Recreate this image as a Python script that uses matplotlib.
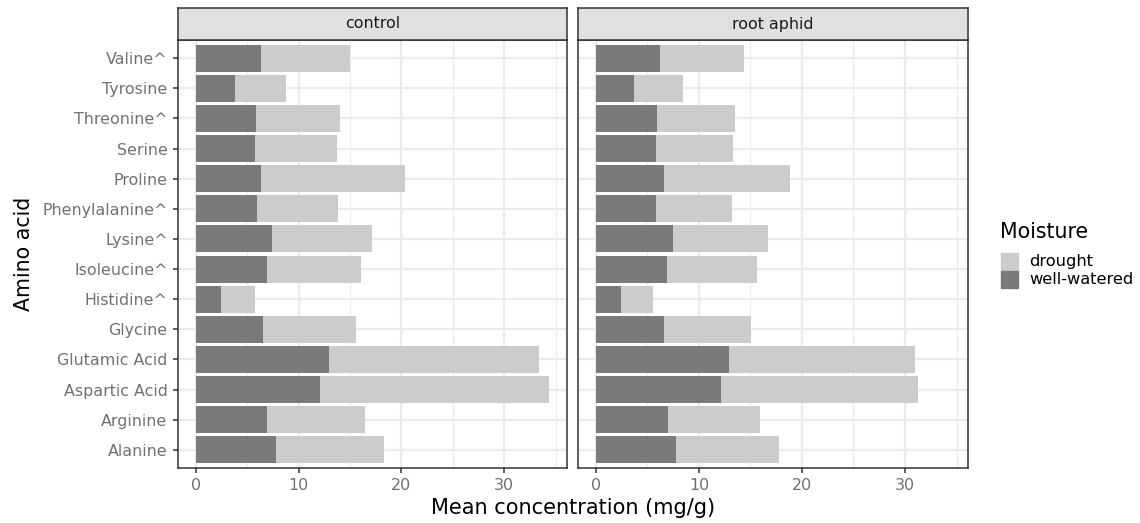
import numpy as np
import matplotlib.pyplot as plt
from matplotlib.patches import Rectangle

amino_acids = ["Alanine", "Arginine", "Aspartic Acid", "Glutamic Acid", "Glycine",
               "Histidine^", "Isoleucine^", "Lysine^", "Phenylalanine^", "Proline",
               "Serine", "Threonine^", "Tyrosine", "Valine^"]
panels = ["control", "root aphid"]
moisture = ["drought", "well-watered"]

# well-watered segment (starts at 0), drought segment stacked on top
well_watered = {
    "control":    [7.80, 6.93, 12.06, 12.93, 6.54, 2.48, 6.93, 7.41, 5.96, 6.35, 5.77, 5.87, 3.84, 6.35],
    "root aphid": [7.81, 7.03, 12.16, 12.94, 6.65, 2.48, 6.94, 7.52, 5.87, 6.65, 5.87, 5.97, 3.74, 6.26],
}
drought = {
    "control":    [10.55, 9.58, 22.33, 20.49, 9.09, 3.29, 9.19, 9.77, 7.84, 14.02, 7.93, 8.12, 4.93, 8.62],
    "root aphid": [10.00, 8.91, 19.14, 18.06, 8.42, 3.10, 8.71, 9.19, 7.36, 12.19, 7.45, 7.55, 4.75, 8.13],
}

dark = "#7a7a7a"
light = "#cccccc"
grid_col = "#ebebeb"
border = "#333333"
text_col = "#707070"

W, H = 1140, 523
fig = plt.figure(figsize=(W / 100, H / 100), dpi=100)

panel_x = [(178, 567), (578, 968)]
top, bottom = 40, 468
strip_top = 8

y = np.arange(len(amino_acids))
xlim = (-1.72, 36.11)

for i, (name, (x0, x1)) in enumerate(zip(panels, panel_x)):
    ax = fig.add_axes([x0 / W, 1 - bottom / H, (x1 - x0) / W, (bottom - top) / H])
    ww = np.array(well_watered[name])
    dr = np.array(drought[name])
    ax.barh(y, ww, height=0.9, color=dark, zorder=3)
    ax.barh(y, dr, left=ww, height=0.9, color=light, zorder=3)
    ax.set_xlim(*xlim)
    ax.set_ylim(-0.6, len(amino_acids) - 0.4)
    ax.set_xticks([0, 10, 20, 30])
    ax.set_xticks([5, 15, 25, 35], minor=True)
    ax.set_yticks(y)
    ax.grid(True, which="major", color=grid_col, lw=1.6, zorder=0)
    ax.grid(True, which="minor", axis="x", color=grid_col, lw=0.8, zorder=0)
    ax.set_axisbelow(True)
    for s in ax.spines.values():
        s.set_color(border)
        s.set_linewidth(1.1)
    ax.tick_params(axis="both", which="major", length=3.5, width=1.1, color=border,
                   labelsize=11.4, labelcolor=text_col, pad=4)
    ax.tick_params(axis="x", which="minor", length=0)
    if i == 0:
        ax.set_yticklabels(amino_acids)
        ax.set_ylabel("Amino acid", fontsize=14.8, labelpad=6)
    else:
        ax.set_yticklabels([])
        ax.tick_params(axis="y", length=0)

    # facet strip
    sax = fig.add_axes([x0 / W, 1 - top / H, (x1 - x0) / W, (top - strip_top) / H])
    sax.set_facecolor("#e0e0e0")
    sax.set_xticks([])
    sax.set_yticks([])
    for s in sax.spines.values():
        s.set_color(border)
        s.set_linewidth(1.1)
    sax.text(0.5, 0.5, name, ha="center", va="center", fontsize=11.4, color="#1a1a1a",
             transform=sax.transAxes)

fig.text((178 + 968) / 2 / W, 1 - 508 / H, "Mean concentration (mg/g)", ha="center",
         va="center", fontsize=15)

# legend drawn by hand so key sizes match ggplot's
fig.text(1000 / W, 1 - 232 / H, "Moisture", ha="left", va="center", fontsize=14.8)
for k, (lab, col) in enumerate(zip(moisture, [light, dark])):
    ky = 253 + k * 17.5
    fig.add_artist(Rectangle((1001 / W, 1 - (ky + 17) / H), 17 / W, 17 / H,
                             transform=fig.transFigure, color=col))
    fig.text(1029 / W, 1 - (ky + 8.5) / H, lab, ha="left", va="center", fontsize=11.7)

fig.savefig("out.png", dpi=100)
